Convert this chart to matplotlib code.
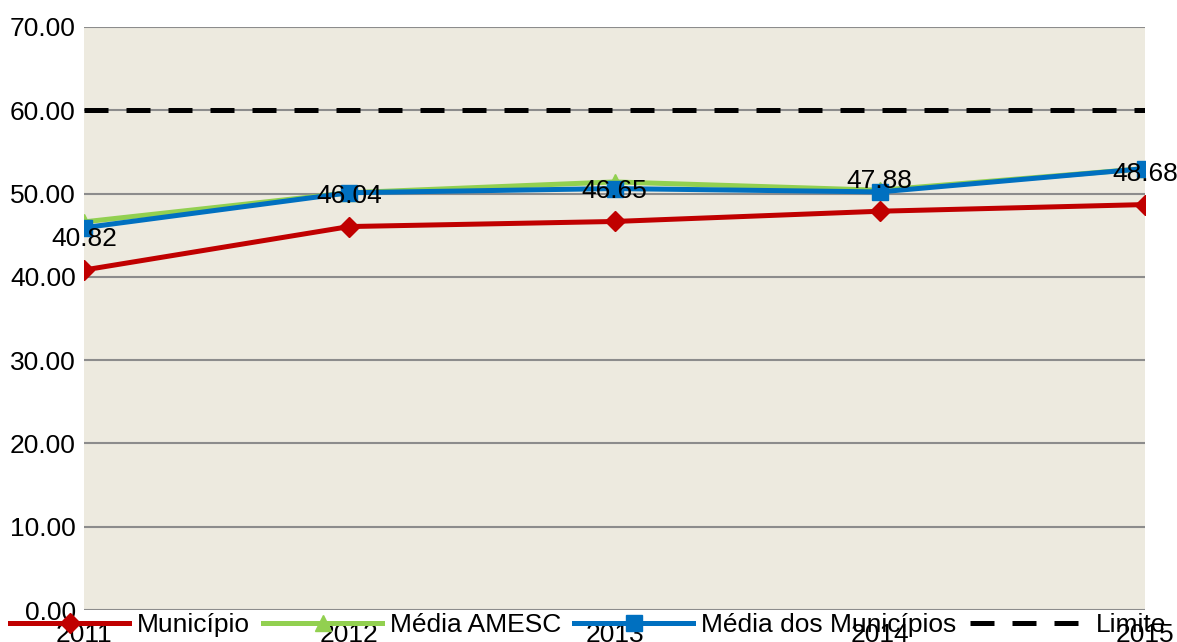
import matplotlib.pyplot as plt

plt.rcParams["font.family"] = ["Liberation Sans", "DejaVu Sans"]

anos = ["2011", "2012", "2013", "2014", "2015"]
municipio = [40.82, 46.04, 46.65, 47.88, 48.68]
media_amesc = [46.6, 50.1, 51.4, 50.4, 53.0]
media_municipios = [45.9, 50.1, 50.6, 50.2, 53.0]
limite = [60, 60, 60, 60, 60]

fig = plt.figure(figsize=(11.77, 6.42), dpi=100)
ax = fig.add_axes([84 / 1177, 1 - 610 / 642, (1145 - 84) / 1177, (610 - 27) / 642])
ax.set_facecolor("#EDEADF")

x = list(range(len(anos)))

ax.plot(x, municipio, color="#C00000", lw=3.6, marker="D", ms=10, label="Município", zorder=5)
ax.plot(x, media_amesc, color="#92D050", lw=3.6, marker="^", ms=11, label="Média AMESC", zorder=3)
ax.plot(x, media_municipios, color="#0070C0", lw=3.6, marker="s", ms=11, label="Média dos Municípios", zorder=4)
ax.plot(x, limite, color="black", lw=3.6, ls=(0, (4.8, 3.6)), label="Limite", zorder=6)

# rótulos dos valores do município
for xi, v in zip(x, municipio):
    ax.annotate(f"{v:.2f}", (xi, v), xytext=(0, 22), textcoords="offset points",
                ha="center", va="center", fontsize=19, zorder=7)

ax.set_xlim(0, len(anos) - 1)
ax.set_ylim(0, 70)
ax.set_yticks(range(0, 71, 10))
ax.set_yticklabels([f"{t:.2f}" for t in range(0, 71, 10)])
ax.set_xticks(x)
ax.set_xticklabels(anos)
ax.tick_params(axis="both", length=0, labelsize=19)
ax.tick_params(axis="x", pad=9)
ax.tick_params(axis="y", pad=6)

ax.grid(axis="y", color="#8C8C8C", lw=1.5, zorder=1)
ax.set_axisbelow(True)
for s in ax.spines.values():
    s.set_visible(False)

fig.legend(loc="center", bbox_to_anchor=(0.5, 1 - 625 / 642), ncol=4, frameon=False,
           fontsize=19, handlelength=4.5, handletextpad=0.3, columnspacing=0.5,
           borderaxespad=0, borderpad=0)

fig.savefig("out.png", dpi=100)
